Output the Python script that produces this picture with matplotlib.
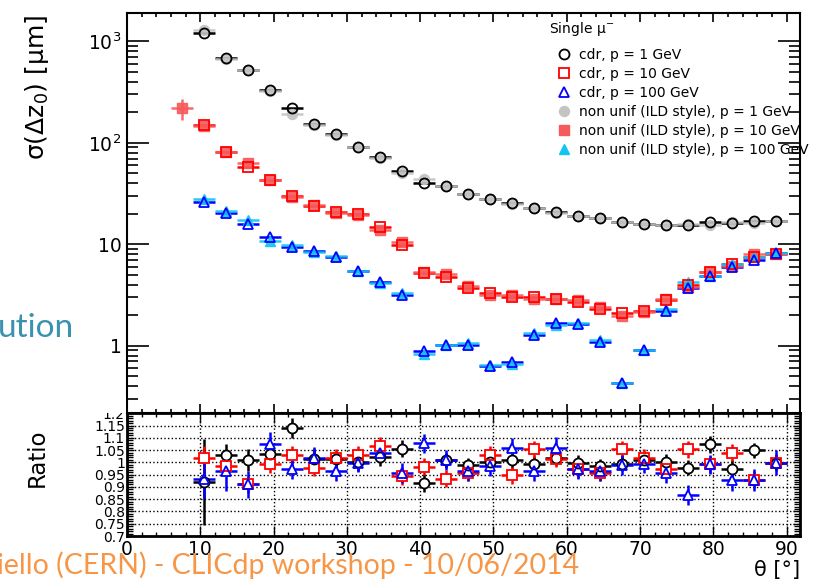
import numpy as np
import matplotlib
matplotlib.use("Agg")
import matplotlib.pyplot as plt
from matplotlib.lines import Line2D
from matplotlib.patches import Rectangle
from matplotlib.ticker import FixedLocator, FixedFormatter, MultipleLocator, NullFormatter, LogLocator

plt.rcParams["font.family"] = ["DejaVu Sans"]
plt.rcParams["mathtext.fontset"] = "dejavusans"

# polar angle bin centres [deg]
theta = [10.5, 13.5, 16.5, 19.5, 22.5, 25.5, 28.5, 31.5, 34.5, 37.5, 40.5, 43.5, 46.5, 49.5,
         52.5, 55.5, 58.5, 61.5, 64.5, 67.5, 70.5, 73.5, 76.5, 79.5, 82.5, 85.5, 88.5]
bin_half = 1.5

# sigma(dz0) [um], CDR geometry
cdr_1gev = [1200, 690, 521, 331, 218, 153, 122, 91, 72, 53, 40.4, 37.5, 31, 27.7,
            25.4, 22.6, 20.9, 19.1, 18.0, 16.5, 15.8, 15.6, 15.4, 16.5, 16.1, 17.0, 16.9]
cdr_10gev = [150, 80.5, 58, 43, 30, 23.8, 20.8, 20.0, 14.9, 9.85, 5.25, 4.73, 3.68, 3.29,
             3.0, 3.05, 2.91, 2.72, 2.29, 2.09, 2.19, 2.82, 3.98, 5.3, 6.4, 7.45, 8.0]
cdr_100gev = [26.3, 20.5, 15.8, 11.7, 9.5, 8.6, 7.45, 5.5, 4.28, 3.17, 0.887, 1.02, 1.02, 0.63,
              0.695, 1.29, 1.69, 1.64, 1.10, 0.427, 0.91, 2.2, 3.7, 4.87, 6.0, 7.0, 8.15]

# ratio cdr / non uniform (ILD style)
ratio_1gev = [0.921, 1.03, 1.008, 1.033, 1.14, 1.015, 1.012, 1.0, 1.02, 1.056, 0.916, 1.008, 0.988, 1.0,
              1.008, 0.995, 1.019, 0.999, 0.985, 0.995, 1.008, 1.003, 0.978, 1.074, 0.974, 1.049, 0.999]
ratio_1gev_err = [0.175, 0.045, 0.045, 0.04, 0.04, 0.04, 0.035, 0.035, 0.035, 0.035, 0.035, 0.03, 0.03, 0.03,
                  0.03, 0.03, 0.03, 0.03, 0.03, 0.03, 0.03, 0.03, 0.03, 0.035, 0.035, 0.03, 0.03]
ratio_10gev = [1.016, 0.985, 0.91, 0.992, 1.03, 0.978, 1.019, 1.03, 1.067, 0.944, 0.982, 0.933, 0.958, 1.03,
               0.948, 1.053, 1.015, 0.971, 0.958, 1.053, 1.019, 0.971, 1.053, 0.992, 1.04, 0.93, 0.999]
ratio_10gev_err = [0.05, 0.04, 0.035, 0.035, 0.035, 0.035, 0.035, 0.035, 0.035, 0.035, 0.035, 0.035, 0.035, 0.035,
                   0.035, 0.035, 0.035, 0.035, 0.035, 0.035, 0.035, 0.035, 0.035, 0.035, 0.035, 0.035, 0.035]
ratio_100gev = [0.934, 0.964, 0.91, 1.074, 0.971, 1.019, 0.964, 0.999, 1.04, 0.958, 1.077, 1.01, 0.964, 0.985,
                1.06, 0.964, 1.06, 0.971, 0.964, 0.989, 0.995, 0.958, 0.868, 0.992, 0.93, 0.93, 0.999]
ratio_100gev_err = [0.08, 0.08, 0.055, 0.05, 0.04, 0.045, 0.04, 0.04, 0.04, 0.04, 0.04, 0.04, 0.04, 0.04,
                    0.04, 0.04, 0.045, 0.04, 0.04, 0.04, 0.04, 0.04, 0.04, 0.04, 0.045, 0.045, 0.05]

# extra low-angle bin only present for the non uniform 10 GeV sample
extra_theta_10gev = [7.5]
extra_nonunif_10gev = [219]
extra_nonunif_10gev_err = [50]

ratio_ticks = [0.7, 0.75, 0.8, 0.85, 0.9, 0.95, 1.0, 1.05, 1.1, 1.15, 1.2]
ratio_ticklabels = ["0.7", "0.75", "0.8", "0.85", "0.9", "0.95", "1", "1.05", "1.1", "1.15", "1.2"]
sigma_ticks = [1, 10, 100, 1000]
sigma_ticklabels = ["1", "10", "10$^{2}$", "10$^{3}$"]

samples = [
    ("1 GeV", cdr_1gev, ratio_1gev, ratio_1gev_err, "o", "black", "#c4c4c4", 7.2),
    ("10 GeV", cdr_10gev, ratio_10gev, ratio_10gev_err, "s", "#ff0000", "#f75a5a", 7.0),
    ("100 GeV", cdr_100gev, ratio_100gev, ratio_100gev_err, "^", "#0000ff", "#10c4f4", 7.8),
]

fig = plt.figure(figsize=(8.17, 5.83), dpi=100)
ax = fig.add_axes([0.1554, 0.2911, 0.8237, 0.6871])
rax = fig.add_axes([0.1554, 0.0806, 0.8237, 0.2105])

# --- upper pad: resolution vs theta
for label, cdr, ratio, rerr, mk, col, fill, ms in samples:
    x = np.array(theta)
    cdr = np.array(cdr)
    nonunif = cdr / np.array(ratio)
    if label == "10 GeV":
        xn = np.concatenate([extra_theta_10gev, x])
        yn = np.concatenate([extra_nonunif_10gev, nonunif])
        en = np.concatenate([extra_nonunif_10gev_err, np.zeros(len(x))])
    else:
        xn, yn, en = x, nonunif, np.zeros(len(x))
    ax.errorbar(x, cdr, xerr=bin_half, fmt="none", ecolor=col, elinewidth=1.8, capsize=0, zorder=2)
    ax.errorbar(xn, yn, xerr=bin_half, yerr=en, fmt="none", ecolor=fill, elinewidth=1.8,
                capsize=0, zorder=3, alpha=0.9)
    ax.plot(xn, yn, ls="none", marker=mk, ms=ms, mfc=fill, mec=fill, mew=1.0, zorder=3.5, alpha=0.9)
    ax.plot(x, cdr, ls="none", marker=mk, ms=ms, mfc="none", mec=col, mew=1.3, zorder=4)

ax.set_yscale("log")
ax.set_xlim(0, 91.8)
ax.set_ylim(0.216, 1914)
ax.yaxis.set_major_locator(FixedLocator(sigma_ticks))
ax.yaxis.set_major_formatter(FixedFormatter(sigma_ticklabels))
ax.yaxis.set_minor_locator(LogLocator(base=10, subs=np.arange(2, 10)))
ax.yaxis.set_minor_formatter(NullFormatter())
ax.xaxis.set_major_locator(MultipleLocator(10))
ax.xaxis.set_minor_locator(MultipleLocator(2))
ax.xaxis.set_major_formatter(NullFormatter())
ax.tick_params(which="both", direction="in", top=True, right=True, width=1.2)
ax.tick_params(axis="y", which="major", length=16, labelsize=13.5, pad=4)
ax.tick_params(axis="y", which="minor", length=8)
ax.tick_params(axis="x", which="major", length=6.5)
ax.tick_params(axis="x", which="minor", length=3)
for s in ax.spines.values():
    s.set_linewidth(1.5)

handles = [Line2D([], [], ls="none", marker=mk, ms=ms, mfc="none", mec=col, mew=1.3)
           for _, _, _, _, mk, col, _, ms in samples]
handles += [Line2D([], [], ls="none", marker=mk, ms=ms, mfc=fill, mec=fill)
            for _, _, _, _, mk, _, fill, ms in samples]
labels = ["cdr, p = " + s[0] for s in samples] + ["non unif (ILD style), p = " + s[0] for s in samples]
leg = ax.legend(handles, labels, title="Single μ$^{-}$", loc="upper left",
                bbox_to_anchor=(0.627, 0.982), frameon=False, fontsize=10, title_fontsize=10,
                alignment="left", handlelength=2.2, handletextpad=0.0, labelspacing=0.36,
                borderpad=0, borderaxespad=0)
leg._legend_box.sep = 7

# --- lower pad: ratio
for label, cdr, ratio, rerr, mk, col, fill, ms in samples:
    rax.errorbar(theta, ratio, xerr=bin_half, yerr=rerr, fmt="none", ecolor=col, elinewidth=1.8,
                 capsize=0, zorder=2)
for label, cdr, ratio, rerr, mk, col, fill, ms in samples:
    rax.plot(theta, ratio, ls="none", marker=mk, ms=ms, mfc="white", mec="none", zorder=3)
for label, cdr, ratio, rerr, mk, col, fill, ms in samples:
    rax.plot(theta, ratio, ls="none", marker=mk, ms=ms, mfc="none", mec=col, mew=1.3, zorder=4)

rax.set_xlim(0, 91.8)
rax.set_ylim(0.7, 1.2)
rax.yaxis.set_major_locator(FixedLocator(ratio_ticks))
rax.yaxis.set_major_formatter(FixedFormatter(ratio_ticklabels))
rax.yaxis.set_minor_locator(MultipleLocator(0.01))
rax.xaxis.set_major_locator(MultipleLocator(10))
rax.xaxis.set_minor_locator(MultipleLocator(2))
rax.grid(True, which="major", ls=":", color="black", lw=1.0)
rax.tick_params(which="both", direction="in", top=True, right=True, width=1.0)
rax.tick_params(axis="y", which="major", length=5, labelsize=10, pad=1.5)
rax.tick_params(axis="y", which="minor", length=4)
rax.tick_params(axis="x", which="major", length=7, labelsize=13.5, pad=3)
rax.tick_params(axis="x", which="minor", length=3)
for s in rax.spines.values():
    s.set_linewidth(2.0)

# upper pad hides the top half of the 1.2 label
fig.patches.append(Rectangle((0.06, 0.2911), 0.094, 0.03, transform=fig.transFigure,
                             facecolor="white", edgecolor="none", zorder=5))

fig.text(0.045, 0.975, "σ(Δz$_{0}$) [μm]", rotation=90, ha="center", va="top", fontsize=18)
fig.text(0.045, 0.215, "Ratio", rotation=90, ha="center", va="center", fontsize=16.5)
fig.text(0.979, 0.022, "θ [°]", ha="right", va="center", fontsize=15)

fig.text(-0.003, 0.422, "ution", color="#3a93ad", fontsize=24, family="Lato", va="baseline")
fig.text(-0.004, 0.015, "iello (CERN) - CLICdp workshop - 10/06/2014", color="#f79646",
         fontsize=20.5, family="Lato", va="baseline", zorder=0)

fig.savefig("out.png", dpi=100)
plt.close(fig)
